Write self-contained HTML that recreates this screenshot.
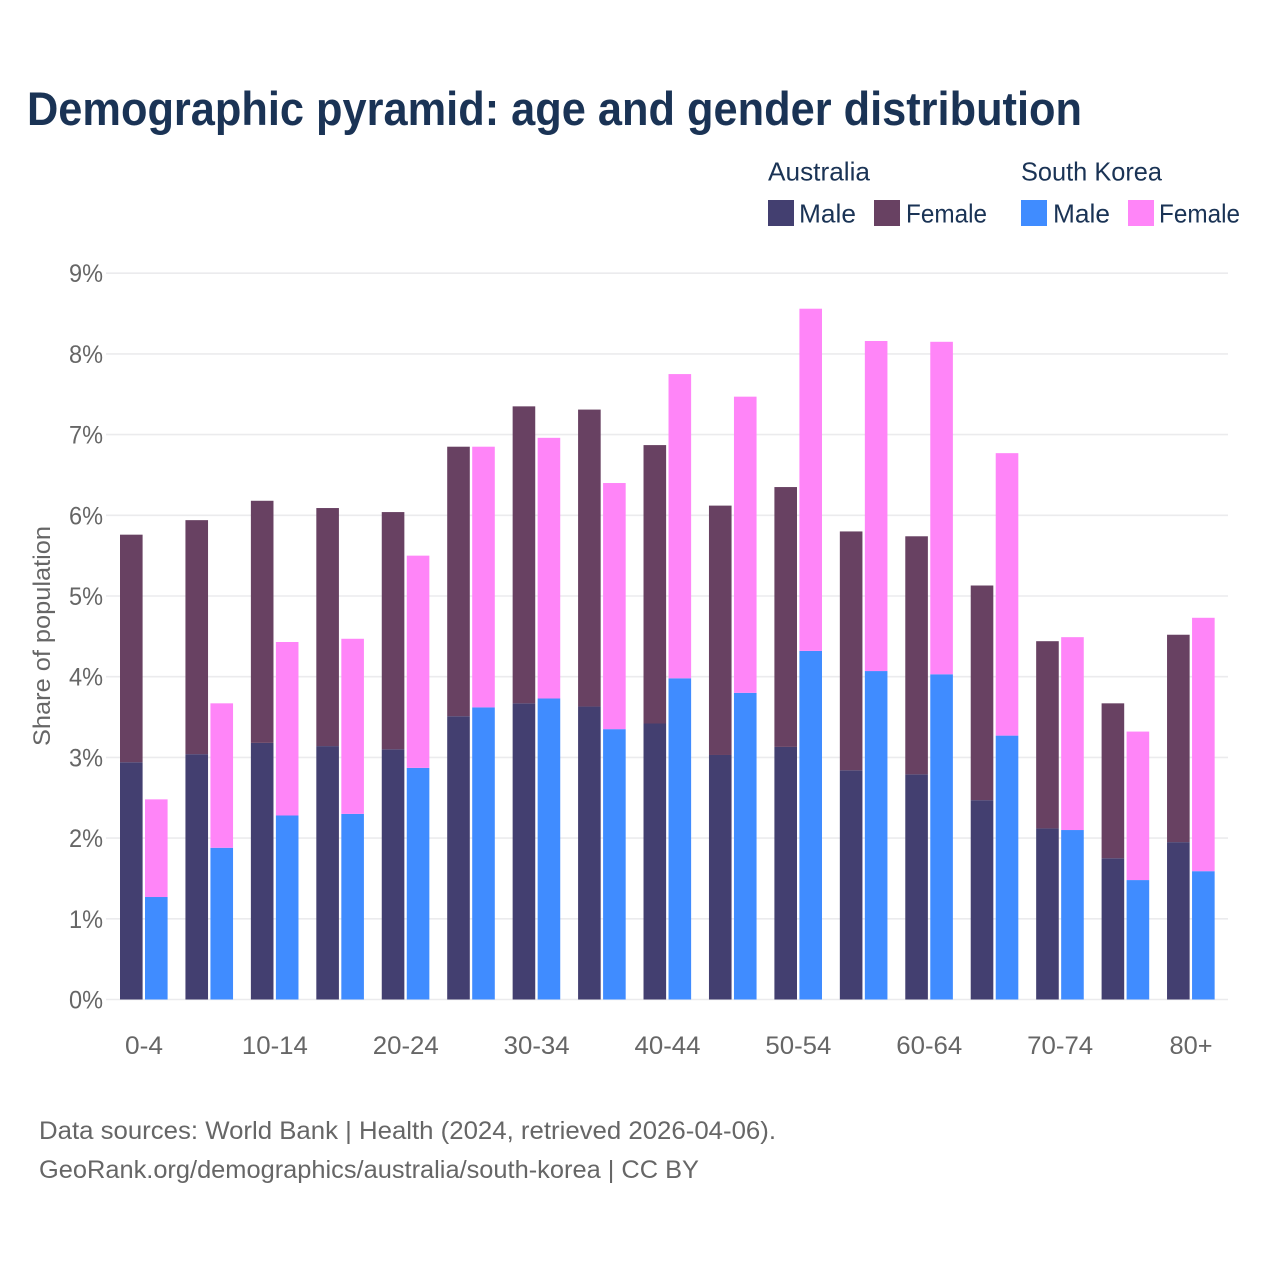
<!DOCTYPE html>
<html lang="en">
<head>
<meta charset="utf-8">
<title>Demographic pyramid: age and gender distribution</title>
<style>
html,body{margin:0;padding:0;background:#fff}
svg{display:block}
text{font-family:"Liberation Sans",sans-serif}
</style>
</head>
<body>
<svg id="chart" width="1280" height="1280" viewBox="0 0 1280 1280" xmlns="http://www.w3.org/2000/svg">
<rect width="1280" height="1280" fill="#fff"/>
<text x="27" y="125" font-size="47" font-weight="700" fill="#1a3355" textLength="1055" lengthAdjust="spacingAndGlyphs">Demographic pyramid: age and gender distribution</text>
<g id="grid"></g>
<g id="bars"></g>
<g id="yticks"></g>
<g id="xticks"></g>
<text transform="translate(50,636) rotate(-90)" text-anchor="middle" font-size="24" fill="#666" textLength="220" lengthAdjust="spacingAndGlyphs">Share of population</text>
<g font-size="26" fill="#1a3355">
<text x="768" y="180.5" textLength="102" lengthAdjust="spacingAndGlyphs">Australia</text>
<text x="1021" y="180.5" textLength="141" lengthAdjust="spacingAndGlyphs">South Korea</text>
<rect x="768" y="200" width="26" height="26" fill="#433f70"/>
<text x="799" y="222.5" textLength="57" lengthAdjust="spacingAndGlyphs">Male</text>
<rect x="874" y="200" width="26" height="26" fill="#684162"/>
<text x="906" y="222.5" textLength="81" lengthAdjust="spacingAndGlyphs">Female</text>
<rect x="1021" y="200" width="26" height="26" fill="#408cff"/>
<text x="1053" y="222.5" textLength="57" lengthAdjust="spacingAndGlyphs">Male</text>
<rect x="1128" y="200" width="26" height="26" fill="#ff85f8"/>
<text x="1159" y="222.5" textLength="81" lengthAdjust="spacingAndGlyphs">Female</text>
</g>
<text x="39" y="1139" font-size="25" fill="#666" textLength="737" lengthAdjust="spacingAndGlyphs">Data sources: World Bank | Health (2024, retrieved 2026-04-06).</text>
<text x="39" y="1178" font-size="25" fill="#666" textLength="660" lengthAdjust="spacingAndGlyphs">GeoRank.org/demographics/australia/south-korea | CC BY</text>
</svg>
<script>
const ageGroups = ["0-4","5-9","10-14","15-19","20-24","25-29","30-34","35-39","40-44","45-49","50-54","55-59","60-64","65-69","70-74","75-79","80+"];
const shownAgeLabels = ["0-4","10-14","20-24","30-34","40-44","50-54","60-64","70-74","80+"];
const yTickValues = [0,1,2,3,4,5,6,7,8,9];
const australiaMale = [2.94,3.04,3.18,3.14,3.10,3.51,3.67,3.63,3.42,3.03,3.13,2.84,2.79,2.47,2.12,1.75,1.95];
const australiaFemale = [2.82,2.90,3.00,2.95,2.94,3.34,3.68,3.68,3.45,3.09,3.22,2.96,2.95,2.66,2.32,1.92,2.57];
const koreaMale = [1.27,1.88,2.28,2.30,2.87,3.62,3.73,3.35,3.98,3.80,4.32,4.07,4.03,3.27,2.10,1.48,1.59];
const koreaFemale = [1.21,1.79,2.15,2.17,2.63,3.23,3.23,3.05,3.77,3.67,4.24,4.09,4.12,3.50,2.39,1.84,3.14];

const NS = "http://www.w3.org/2000/svg";
const yScale = v => 999.5 - v * 80.7;
const xScale = i => 120 + i * 65.44;
const BAR_W = 22.6;
const KOREA_OFFSET = 25;

function make(tag, attrs, parent, content) {
  const el = document.createElementNS(NS, tag);
  for (const k in attrs) el.setAttribute(k, attrs[k]);
  if (content !== undefined) el.textContent = content;
  parent.appendChild(el);
  return el;
}

const gridG = document.getElementById("grid");
const yG = document.getElementById("yticks");
const xG = document.getElementById("xticks");
const barsG = document.getElementById("bars");

yTickValues.forEach(v => {
  const line = make("line", {x1:106, x2:1228, y1:yScale(v), y2:yScale(v), stroke:"#ebebed", "stroke-width":1.6}, gridG);
  
  
  const t = make("text", {x:103, y:yScale(v)+9, "text-anchor":"end", "font-size":25, fill:"#666", textLength:34, lengthAdjust:"spacingAndGlyphs"}, yG, v + "%");
  
  
});

ageGroups.forEach((g, i) => {
  if (shownAgeLabels.includes(g)) {
    const labelWidth = g === "80+" ? 43 : (g.length > 3 ? 66 : 38);
    const t = make("text", {x:xScale(i)+24, y:1054, "text-anchor":"middle", "font-size":25, fill:"#666", textLength:labelWidth, lengthAdjust:"spacingAndGlyphs"}, xG, g);
    
    
  }
  const drawStack = (male, female, x, maleColor, femaleColor, country) => {
    const m = make("rect", {x:x, y:yScale(male), width:BAR_W, height:yScale(0)-yScale(male), fill:maleColor}, barsG);
    
    
    m.setAttribute('data-series', country + "-male-" + g);
    const f = make("rect", {x:x, y:yScale(male+female), width:BAR_W, height:yScale(male)-yScale(male+female), fill:femaleColor}, barsG);
    
    
    f.setAttribute('data-series', country + "-female-" + g);
  };
  drawStack(australiaMale[i], australiaFemale[i], xScale(i), "#433f70", "#684162", "australia");
  drawStack(koreaMale[i], koreaFemale[i], xScale(i)+KOREA_OFFSET, "#408cff", "#ff85f8", "south-korea");
});
</script>
</body>
</html>
